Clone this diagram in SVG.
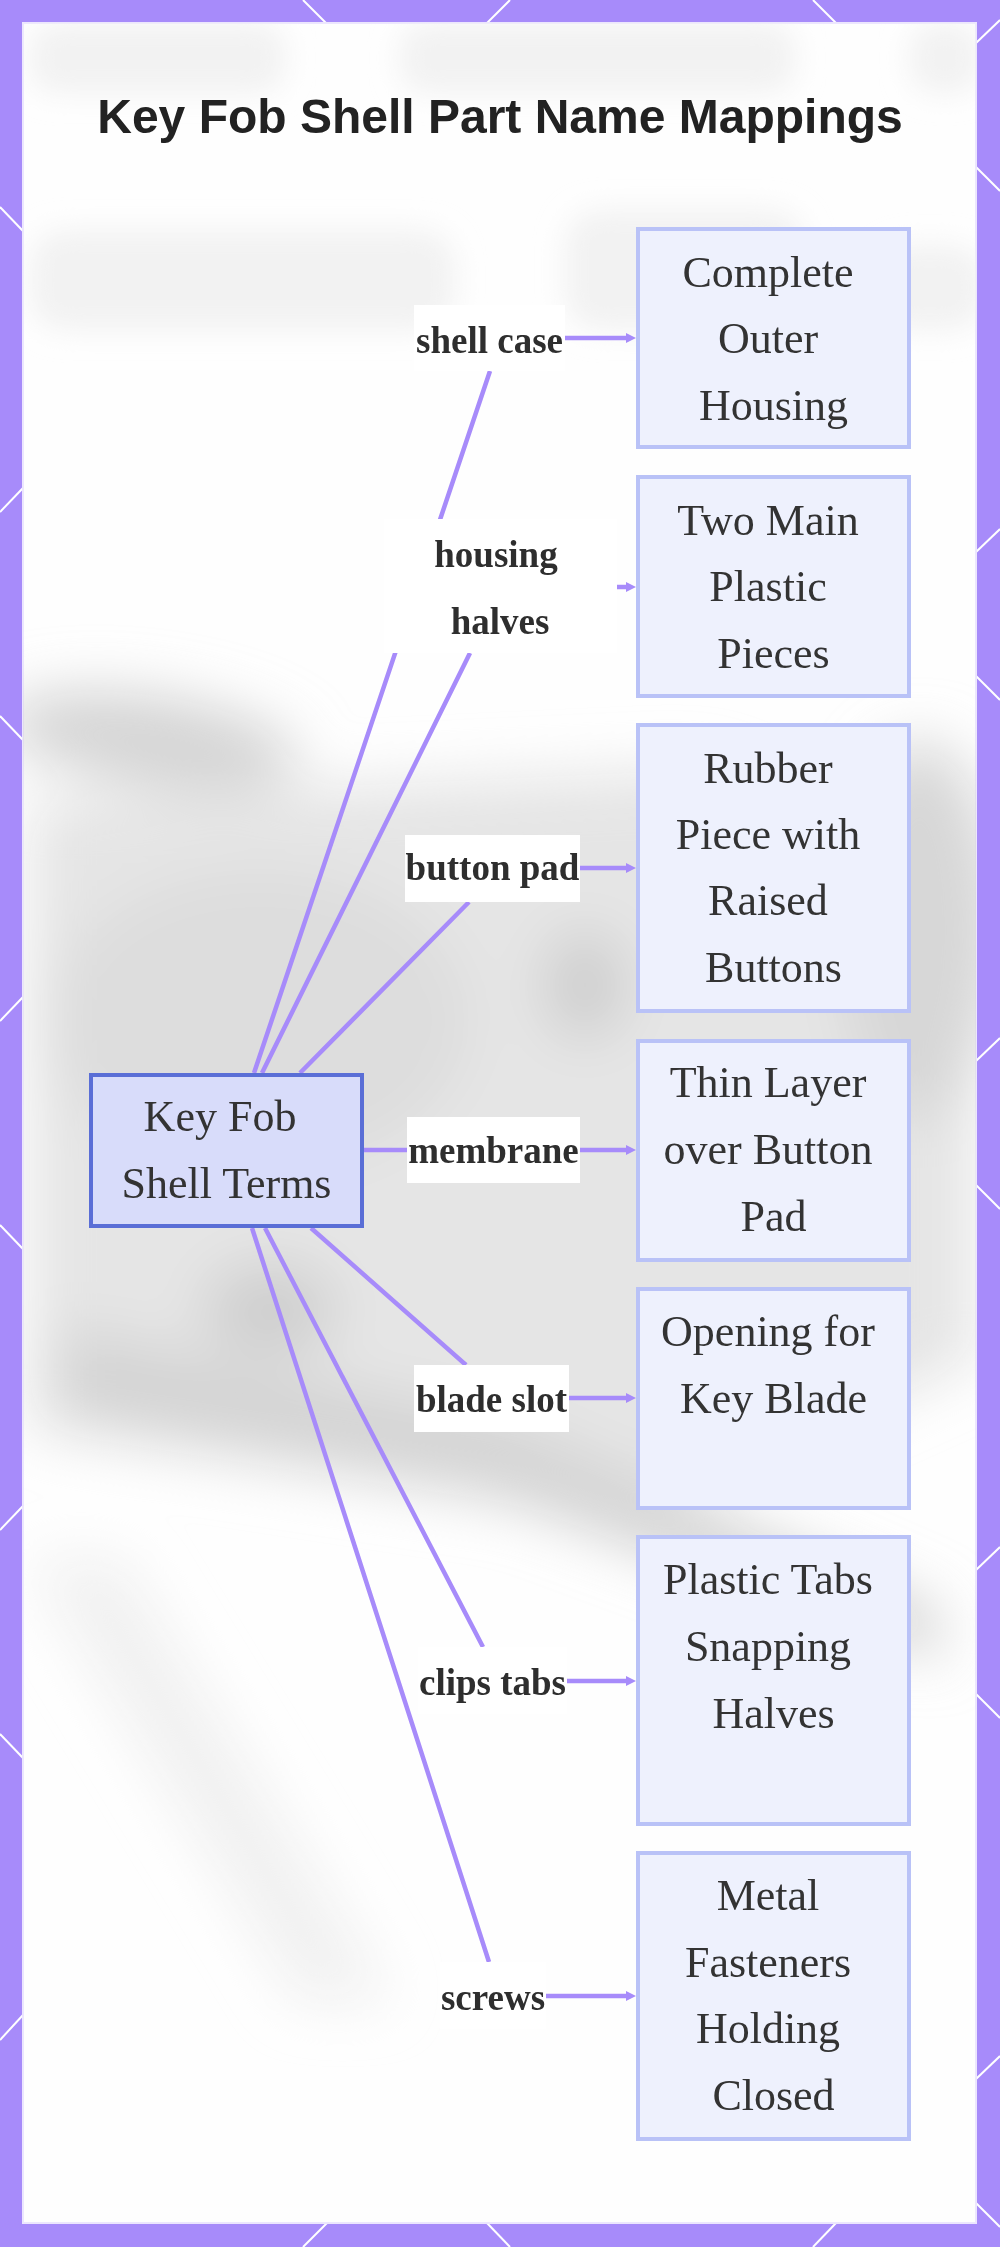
<svg xmlns="http://www.w3.org/2000/svg" width="1000" height="2247" viewBox="0 0 1000 2247">
  <style>
    .hex { stroke: #ffffff; stroke-width: 2; fill: none; }
    .title { font-family: "Liberation Sans", Arial, sans-serif; font-weight: bold; font-size: 48px; fill: #222222; }
    .box { fill: #eef1fd; stroke: #b9c2f7; stroke-width: 4; }
    .root { fill: #d8dcfa; stroke: #5a6ed6; stroke-width: 4; }
    .ntext { font-family: "Liberation Serif", "Times New Roman", serif; font-size: 44px; fill: #333333; text-anchor: middle; }
    .edge { stroke: #a78bfa; stroke-width: 4.5; fill: none; }
    .lblbg { fill: #ffffff; }
    .ltext { font-family: "Liberation Serif", "Times New Roman", serif; font-weight: bold; font-size: 37px; fill: #2e2e2e; text-anchor: middle; }
  </style>
  <defs>
    <marker id="arrow" viewBox="0 0 10 10" refX="2" refY="5" markerWidth="10" markerHeight="10" markerUnits="userSpaceOnUse" orient="auto">
      <path d="M0,0 L10,5 L0,10 Z" fill="#a78bfa"/>
    </marker>
    <clipPath id="panel">
      <rect x="23" y="23" width="953" height="2200"/>
    </clipPath>
    <filter id="blurBig" x="-20%" y="-20%" width="140%" height="140%">
      <feGaussianBlur stdDeviation="28"/>
    </filter>
    <filter id="blurSmall" x="-20%" y="-50%" width="140%" height="200%">
      <feGaussianBlur stdDeviation="14"/>
    </filter>
  </defs>

  <!-- frame -->
  <rect x="0" y="0" width="1000" height="2247" fill="#a78bfa"/>
  <g id="hex-pattern">
    <line class="hex" x1="303" y1="0" x2="326" y2="23"/>
    <line class="hex" x1="510" y1="0" x2="487" y2="23"/>
    <line class="hex" x1="813" y1="0" x2="836" y2="23"/>
    <line class="hex" x1="303" y1="2247" x2="327" y2="2223"/>
    <line class="hex" x1="510" y1="2247" x2="487" y2="2223"/>
    <line class="hex" x1="813" y1="2247" x2="836" y2="2223"/>
    <line class="hex" x1="0" y1="207" x2="23" y2="231"/>
    <line class="hex" x1="0" y1="716" x2="23" y2="740"/>
    <line class="hex" x1="0" y1="1225" x2="23" y2="1249"/>
    <line class="hex" x1="0" y1="1734" x2="23" y2="1758"/>
    <line class="hex" x1="23" y1="488" x2="0" y2="512"/>
    <line class="hex" x1="23" y1="997" x2="0" y2="1021"/>
    <line class="hex" x1="23" y1="1506" x2="0" y2="1530"/>
    <line class="hex" x1="23" y1="2015" x2="0" y2="2040"/>
    <line class="hex" x1="976" y1="43" x2="1000" y2="20"/>
    <line class="hex" x1="976" y1="552" x2="1000" y2="529"/>
    <line class="hex" x1="976" y1="1061" x2="1000" y2="1038"/>
    <line class="hex" x1="976" y1="1570" x2="1000" y2="1547"/>
    <line class="hex" x1="976" y1="2079" x2="1000" y2="2056"/>
    <line class="hex" x1="976" y1="167" x2="1000" y2="191"/>
    <line class="hex" x1="976" y1="676" x2="1000" y2="700"/>
    <line class="hex" x1="976" y1="1185" x2="1000" y2="1209"/>
    <line class="hex" x1="976" y1="1694" x2="1000" y2="1718"/>
    <line class="hex" x1="976" y1="2203" x2="1000" y2="2227"/>
  </g>
  <rect x="23" y="23" width="953" height="2200" fill="#fefefe" stroke="#ece6fe" stroke-width="2"/>

  <!-- faded background photo -->
  <g id="backdrop" clip-path="url(#panel)">
    <g filter="url(#blurSmall)" fill="#f2f2f2">
      <rect x="30" y="23" width="255" height="70" rx="25"/>
      <rect x="400" y="23" width="395" height="70" rx="25"/>
      <rect x="910" y="23" width="70" height="70" rx="25"/>
      <rect x="30" y="230" width="425" height="100" rx="35"/>
      <rect x="565" y="210" width="240" height="120" rx="35"/>
      <rect x="875" y="245" width="110" height="85" rx="35"/>
    </g>
    <g filter="url(#blurBig)">
      <polygon points="30,800 700,770 976,880 976,1360 620,1520 30,1430" fill="#e5e5e5"/>
      <ellipse cx="150" cy="740" rx="150" ry="45" fill="#d4d4d4" transform="rotate(8 150 740)"/>
      <ellipse cx="260" cy="1020" rx="210" ry="150" fill="#dddddd"/>
      <ellipse cx="585" cy="985" rx="38" ry="52" fill="#cccccc"/>
      <ellipse cx="270" cy="1310" rx="65" ry="45" fill="#cecece"/>
      <polygon points="60,1330 500,1420 940,1610 940,1660 480,1490 60,1410" fill="#d3d3d3"/>
      <ellipse cx="920" cy="930" rx="80" ry="190" fill="#d7d7d7"/>
      <polygon points="30,1560 120,1560 390,2000 300,2000" fill="#f0f0f0"/>
    </g>
  </g>

  <!-- title -->
  <text class="title" x="500" y="133" text-anchor="middle">Key Fob Shell Part Name Mappings</text>

  <!-- connectors -->
  <g id="connectors">
    <path class="edge" d="M254,1073 L490,371 M565,338 L628,338" marker-end="url(#arrow)"/>
    <path class="edge" d="M262,1073 L470,653 M615,587 L628,587" marker-end="url(#arrow)"/>
    <path class="edge" d="M300,1073 L469,902 M580,868 L628,868" marker-end="url(#arrow)"/>
    <path class="edge" d="M364,1150 L407,1150 M580,1150 L628,1150" marker-end="url(#arrow)"/>
    <path class="edge" d="M311,1228 L466,1365 M569,1398 L628,1398" marker-end="url(#arrow)"/>
    <path class="edge" d="M265,1228 L483,1647 M567,1681 L628,1681" marker-end="url(#arrow)"/>
    <path class="edge" d="M252,1228 L489,1962 M546,1996 L628,1996" marker-end="url(#arrow)"/>
  </g>

  <!-- edge labels -->
  <g id="labels">
    <g id="label-shell-case">
      <rect class="lblbg" x="414" y="305" width="151" height="66"/>
      <text class="ltext" x="489.5" y="353">shell case</text>
    </g>
    <g id="label-housing-halves">
      <rect class="lblbg" x="384" y="519" width="233" height="134"/>
      <text class="ltext" x="496" y="567">housing</text>
      <text class="ltext" x="500" y="634">halves</text>
    </g>
    <g id="label-button-pad">
      <rect class="lblbg" x="405" y="835" width="175" height="67"/>
      <text class="ltext" x="492.5" y="880">button pad</text>
    </g>
    <g id="label-membrane">
      <rect class="lblbg" x="407" y="1117" width="173" height="66"/>
      <text class="ltext" x="493.5" y="1163">membrane</text>
    </g>
    <g id="label-blade-slot">
      <rect class="lblbg" x="414" y="1365" width="155" height="67"/>
      <text class="ltext" x="491.5" y="1412">blade slot</text>
    </g>
    <g id="label-clips-tabs">
      <rect class="lblbg" x="418" y="1647" width="149" height="67"/>
      <text class="ltext" x="492.5" y="1695">clips tabs</text>
    </g>
    <g id="label-screws">
      <rect class="lblbg" x="440" y="1962" width="106" height="67"/>
      <text class="ltext" x="493" y="2010">screws</text>
    </g>
  </g>

  <!-- nodes -->
  <g id="node-root">
    <rect class="root" x="91" y="1075" width="271" height="151"/>
    <text class="ntext" x="220" y="1131">Key Fob</text>
    <text class="ntext" x="226.5" y="1198">Shell Terms</text>
  </g>
  <g id="node-outer-housing">
    <rect class="box" x="638" y="229" width="271" height="218"/>
    <text class="ntext" x="768" y="287">Complete</text>
    <text class="ntext" x="768" y="353">Outer</text>
    <text class="ntext" x="773.5" y="420">Housing</text>
  </g>
  <g id="node-plastic-pieces">
    <rect class="box" x="638" y="477" width="271" height="219"/>
    <text class="ntext" x="768" y="535">Two Main</text>
    <text class="ntext" x="768" y="601">Plastic</text>
    <text class="ntext" x="773.5" y="668">Pieces</text>
  </g>
  <g id="node-rubber-piece">
    <rect class="box" x="638" y="725" width="271" height="286"/>
    <text class="ntext" x="768" y="783">Rubber</text>
    <text class="ntext" x="768" y="849">Piece with</text>
    <text class="ntext" x="768" y="915">Raised</text>
    <text class="ntext" x="773.5" y="982">Buttons</text>
  </g>
  <g id="node-thin-layer">
    <rect class="box" x="638" y="1041" width="271" height="219"/>
    <text class="ntext" x="768" y="1097">Thin Layer</text>
    <text class="ntext" x="768" y="1164">over Button</text>
    <text class="ntext" x="773.5" y="1231">Pad</text>
  </g>
  <g id="node-blade-opening">
    <rect class="box" x="638" y="1289" width="271" height="219"/>
    <text class="ntext" x="768" y="1346">Opening for</text>
    <text class="ntext" x="773.5" y="1413">Key Blade</text>
  </g>
  <g id="node-plastic-tabs">
    <rect class="box" x="638" y="1537" width="271" height="287"/>
    <text class="ntext" x="768" y="1594">Plastic Tabs</text>
    <text class="ntext" x="768" y="1661">Snapping</text>
    <text class="ntext" x="773.5" y="1728">Halves</text>
  </g>
  <g id="node-metal-fasteners">
    <rect class="box" x="638" y="1853" width="271" height="286"/>
    <text class="ntext" x="768" y="1910">Metal</text>
    <text class="ntext" x="768" y="1977">Fasteners</text>
    <text class="ntext" x="768" y="2043">Holding</text>
    <text class="ntext" x="773.5" y="2110">Closed</text>
  </g>
</svg>
